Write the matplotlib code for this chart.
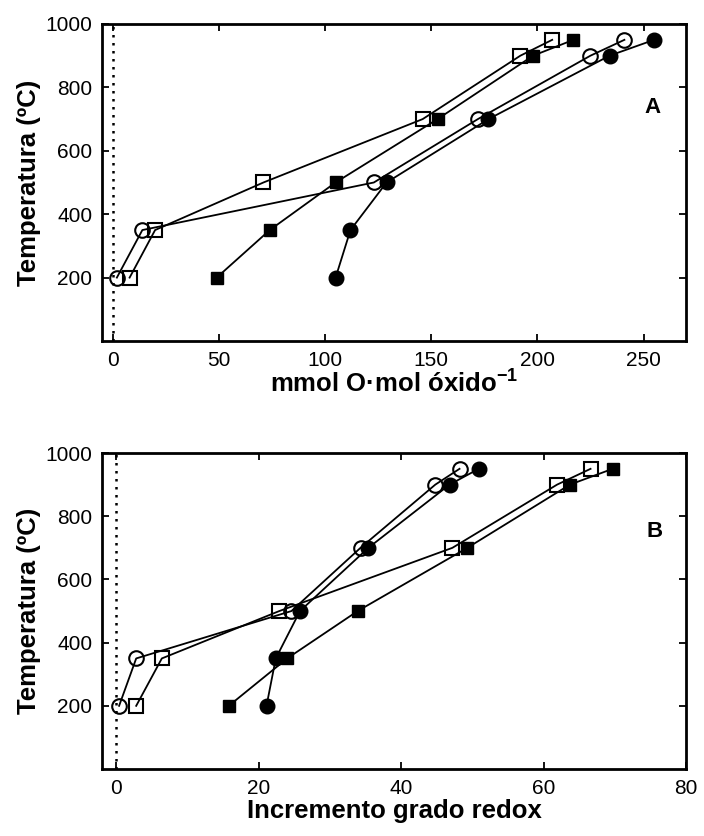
import matplotlib
matplotlib.use("Agg")
import matplotlib.pyplot as plt

plt.rcParams['font.family'] = ['Liberation Sans', 'DejaVu Sans']
plt.rcParams['mathtext.fontset'] = 'custom'
plt.rcParams['mathtext.rm'] = 'Liberation Sans'
plt.rcParams['mathtext.bf'] = 'Liberation Sans:bold'

temps = [200, 350, 500, 700, 900, 950]

# Panel A: mmol O / mol oxide
a_open_circle = [2, 14, 123, 172, 225, 241]
a_filled_circle = [105, 112, 129, 177, 234, 255]
a_open_square = [8, 20, 71, 146, 192, 207]
a_filled_square = [49, 74, 105, 153, 198, 217]

# Panel B: redox degree increment
b_open_circle = [0.4, 2.8, 24.6, 34.3, 44.8, 48.2]
b_filled_circle = [21.1, 22.4, 25.8, 35.4, 46.8, 50.9]
b_open_square = [2.8, 6.4, 22.9, 47.2, 61.9, 66.6]
b_filled_square = [15.8, 24.0, 33.9, 49.3, 63.7, 69.7]

yticks = [200, 400, 600, 800, 1000]
a_xticks = [0, 50, 100, 150, 200, 250]
b_xticks = [0, 20, 40, 60, 80]

fig = plt.figure(figsize=(7.04, 8.36), dpi=100)
axA = fig.add_axes([0.1449, 0.5921, 0.8295, 0.3792])
axB = fig.add_axes([0.1449, 0.0801, 0.8295, 0.3780])


def draw(ax, oc, fc, os_, fs, xlim, xticks, xlabel, letter, lpos, lpad):
    ax.axvline(0, color='black', linestyle=(0, (1, 2.2)), linewidth=1.8, zorder=1)
    kw = dict(color='black', linewidth=1.3, zorder=3)
    ax.plot(fs, temps, marker='s', markersize=9, markerfacecolor='black',
            markeredgecolor='black', **kw)
    ax.plot(os_, temps, marker='s', markersize=9.5, markerfacecolor='none',
            markeredgecolor='black', markeredgewidth=1.5, **kw)
    ax.plot(fc, temps, marker='o', markersize=10.5, markerfacecolor='black',
            markeredgecolor='black', **kw)
    ax.plot(oc, temps, marker='o', markersize=10.5, markerfacecolor='none',
            markeredgecolor='black', markeredgewidth=1.5, **kw)
    ax.set_xlim(*xlim)
    ax.set_ylim(0, 1000)
    ax.set_xticks(xticks)
    ax.set_yticks(yticks)
    ax.tick_params(direction='in', top=True, right=True, length=5, width=1.3,
                   labelsize=15, pad=7)
    for s in ax.spines.values():
        s.set_linewidth(2)
    ax.set_xlabel(xlabel, fontsize=18.5, fontweight='bold', labelpad=lpad)
    ax.set_ylabel('Temperatura (ºC)', fontsize=18.5, fontweight='bold', labelpad=3)
    ax.text(lpos[0], lpos[1], letter, transform=ax.transAxes, fontsize=16,
            fontweight='bold', ha='center', va='center')


draw(axA, a_open_circle, a_filled_circle, a_open_square, a_filled_square,
     (-5, 270), a_xticks, r'mmol O·mol óxido$^{\mathbf{-1}}$', 'A', (0.942, 0.738), -1)
draw(axB, b_open_circle, b_filled_circle, b_open_square, b_filled_square,
     (-2, 80), b_xticks, 'Incremento grado redox', 'B', (0.946, 0.751), 1)

fig.savefig('out.png', dpi=100)
